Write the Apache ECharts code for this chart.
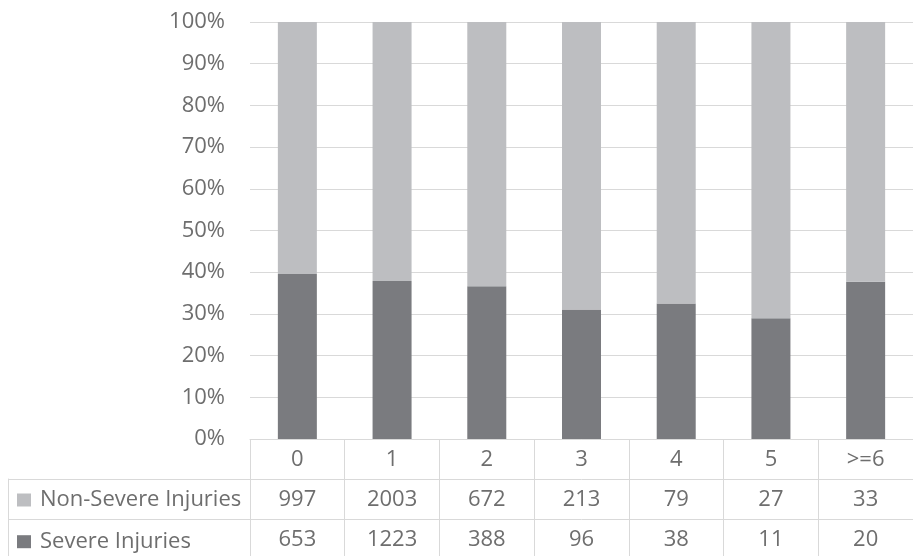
<!DOCTYPE html>
<html>
<head>
<meta charset="utf-8">
<script src="https://cdn.jsdelivr.net/npm/echarts@6/dist/echarts.min.js"></script>
<style>
  html, body { margin: 0; padding: 0; background: #fff; }
  #chart { width: 913px; height: 556px; }
</style>
</head>
<body>
<div id="chart"></div>
<script>
// Injury counts by category, with a data table under the 100% stacked bars
const categories = ['0', '1', '2', '3', '4', '5', '>=6'];
const nonSevere = [997, 2003, 672, 213, 79, 27, 33];
const severe = [653, 1223, 388, 96, 38, 11, 20];
const seriesNames = ['Non-Severe Injuries', 'Severe Injuries'];
const yTicks = { min: 0, max: 100, step: 10 };

const FONT = '"Open Sans", "DejaVu Sans", sans-serif';
const TEXT = '#6e6e6e';
const LINE = '#d9d9d9';
const LIGHT = '#bdbec1';
const DARK = '#7a7b7f';
const FS = 22;

// table rows are 40.7px tall; the table area runs from y=479 to the bottom edge (77px)
const ROW_H = 40.7;
const TABLE_H = 77;
const rowAxisMax = TABLE_H / ROW_H;

const totals = categories.map((_, i) => nonSevere[i] + severe[i]);
const severePct = severe.map((v, i) => v / totals[i] * 100);
const nonSeverePct = nonSevere.map((v, i) => v / totals[i] * 100);

// cells of the table: [column, row centre, text]
const cells = [];
categories.forEach((_, i) => {
  cells.push([i, 0.5, String(nonSevere[i])]);
  cells.push([i, 1.5, String(severe[i])]);
});

const rowAxis = (gridIndex, showLine) => ({
  gridIndex: gridIndex,
  type: 'value',
  inverse: true,
  min: 0,
  max: rowAxisMax,
  interval: 1,
  axisLine: { show: showLine, lineStyle: { color: LINE, width: 1 } },
  axisTick: { show: false },
  axisLabel: { show: false },
  splitLine: { show: true, lineStyle: { color: LINE, width: 1 } }
});

const chart = echarts.init(document.getElementById('chart'), null, { renderer: 'canvas' });

chart.setOption({
  animation: false,
  textStyle: { fontFamily: FONT },
  grid: [
    { left: 250, top: 22, width: 674, height: 417 },
    { left: 250, top: 479, width: 674, height: TABLE_H },
    { left: 8, top: 479, width: 242, height: TABLE_H }
  ],
  legend: {
    data: seriesNames,
    orient: 'vertical',
    left: 17,
    top: 489,
    padding: 0,
    icon: 'rect',
    itemWidth: 14,
    itemHeight: 13,
    itemGap: ROW_H - 21,
    selectedMode: false,
    textStyle: { fontFamily: FONT, fontSize: FS, color: TEXT, lineHeight: 21, padding: [0, 0, 0, 4] }
  },
  xAxis: [
    {
      gridIndex: 0,
      type: 'category',
      data: categories,
      boundaryGap: true,
      axisLine: { show: true, lineStyle: { color: LINE, width: 1 } },
      axisTick: { show: true, length: 40, inside: false, lineStyle: { color: LINE, width: 1 } },
      axisLabel: { fontFamily: FONT, fontSize: FS, color: TEXT, margin: 10, interval: 0 }
    },
    {
      gridIndex: 1,
      type: 'category',
      data: categories,
      boundaryGap: true,
      axisLine: { show: false },
      axisTick: { show: false },
      axisLabel: { show: false },
      splitLine: { show: true, interval: 0, lineStyle: { color: LINE, width: 1 } }
    },
    {
      gridIndex: 2,
      type: 'value',
      show: false
    }
  ],
  yAxis: [
    {
      gridIndex: 0,
      type: 'value',
      min: yTicks.min,
      max: yTicks.max,
      interval: yTicks.step,
      axisLine: { show: false },
      axisTick: { show: false },
      axisLabel: { formatter: '{value}%', fontFamily: FONT, fontSize: FS, color: TEXT, margin: 25 },
      splitLine: { show: true, lineStyle: { color: LINE, width: 1 } }
    },
    rowAxis(1, false),
    rowAxis(2, true)
  ],
  series: [
    {
      name: 'Severe Injuries',
      type: 'bar',
      stack: 'share',
      xAxisIndex: 0,
      yAxisIndex: 0,
      barWidth: 39,
      itemStyle: { color: DARK },
      data: severePct
    },
    {
      name: 'Non-Severe Injuries',
      type: 'bar',
      stack: 'share',
      xAxisIndex: 0,
      yAxisIndex: 0,
      barWidth: 39,
      itemStyle: { color: LIGHT },
      data: nonSeverePct
    },
    {
      name: 'table',
      type: 'custom',
      xAxisIndex: 1,
      yAxisIndex: 1,
      silent: true,
      clip: false,
      data: cells,
      renderItem: function (params, api) {
        const p = api.coord([api.value(0), api.value(1)]);
        return {
          type: 'text',
          style: {
            text: cells[params.dataIndex][2],
            x: p[0],
            y: p[1],
            align: 'center',
            verticalAlign: 'middle',
            fill: TEXT,
            font: FS + 'px ' + FONT
          }
        };
      }
    }
  ]
});
</script>
</body>
</html>
